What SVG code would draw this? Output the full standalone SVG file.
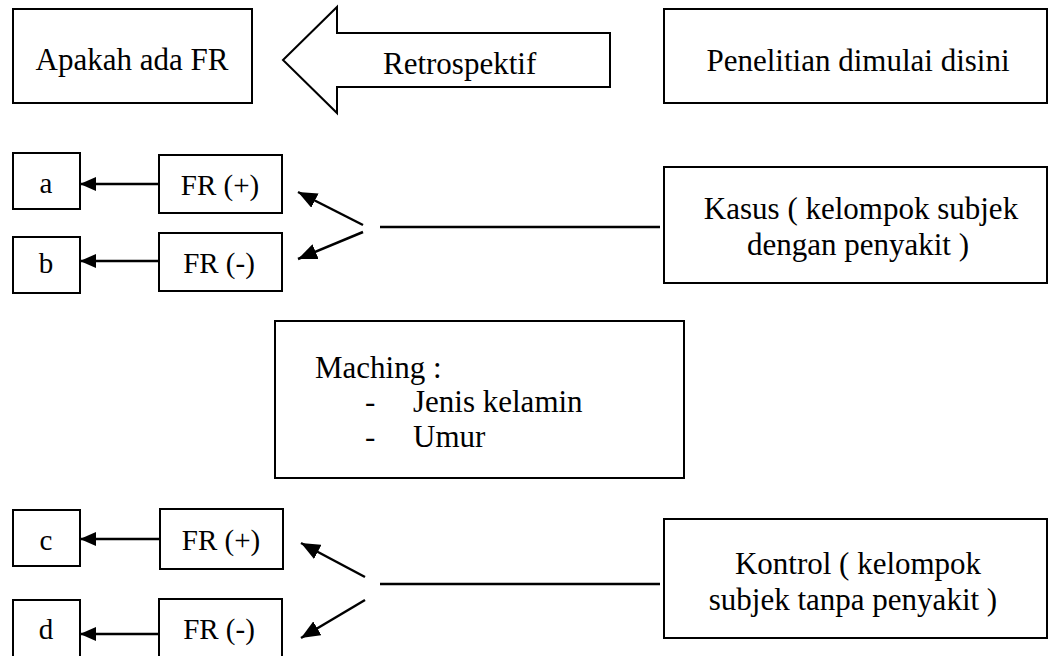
<svg xmlns="http://www.w3.org/2000/svg" width="1049" height="656" viewBox="0 0 1049 656">
<defs>
<style>
.box{fill:#fff;stroke:#000;stroke-width:2}
.t{font-family:"Liberation Serif","Times New Roman",serif;font-size:31px;fill:#000}
.s{font-family:"Liberation Serif","Times New Roman",serif;font-size:29px;fill:#000}
.c{text-anchor:middle}
.ln{stroke:#000;stroke-width:2.5;fill:none}
</style>
<marker id="ah" markerUnits="userSpaceOnUse" markerWidth="18" markerHeight="14" refX="16" refY="7" orient="auto">
<path d="M0,0 L16,7 L0,14 z" fill="#000"/>
</marker>
<marker id="ad" markerUnits="userSpaceOnUse" markerWidth="20" markerHeight="16" refX="19" refY="8" orient="auto">
<path d="M0,0 L19,8 L0,16 z" fill="#000"/>
</marker>
</defs>
<rect width="1049" height="656" fill="#fff"/>

<g id="apakah"><rect class="box" x="13" y="9" width="239" height="94"/><text class="t c" x="132" y="70">Apakah ada FR</text></g>
<g id="retrospektif"><polygon class="box" points="283,60 337,7 337,33 610,33 610,87 337,87 337,113"/><text class="t" x="383" y="74">Retrospektif</text></g>
<g id="penelitian"><rect class="box" x="664" y="9" width="383" height="94"/><text class="t c" x="858" y="71">Penelitian dimulai disini</text></g>

<g id="a"><rect class="box" x="13" y="153" width="67" height="56"/><text class="s c" x="46" y="193">a</text></g>
<g id="b"><rect class="box" x="13" y="237" width="67" height="56"/><text class="s c" x="46" y="273">b</text></g>
<g id="frp1"><rect class="box" x="159" y="155" width="123" height="58"/><text class="s c" x="220" y="195">FR (+)</text></g>
<g id="frm1"><rect class="box" x="159" y="233" width="123" height="58"/><text class="s c" x="219" y="273">FR (-)</text></g>
<g id="kasus"><rect class="box" x="664" y="167" width="383" height="116"/><text class="t c" x="861" y="219">Kasus ( kelompok subjek</text><text class="t c" x="858" y="255">dengan penyakit )</text></g>

<g id="maching"><rect class="box" x="275" y="321" width="409" height="157"/><text class="t" x="315" y="378">Maching :</text><text class="t" x="365" y="412">-</text><text class="t" x="413" y="412">Jenis kelamin</text><text class="t" x="365" y="447">-</text><text class="t" x="413" y="447">Umur</text></g>

<g id="c"><rect class="box" x="13" y="510" width="67" height="56"/><text class="s c" x="46" y="550">c</text></g>
<g id="d"><rect class="box" x="13" y="600" width="67" height="70"/><text class="s c" x="46" y="639">d</text></g>
<g id="frp2"><rect class="box" x="160" y="509" width="123" height="60"/><text class="s c" x="221" y="550">FR (+)</text></g>
<g id="frm2"><rect class="box" x="159" y="599" width="123" height="70"/><text class="s c" x="219" y="639">FR (-)</text></g>
<g id="kontrol"><rect class="box" x="664" y="519" width="383" height="119"/><text class="t c" x="858" y="574">Kontrol ( kelompok</text><text class="t c" x="853" y="610">subjek tanpa penyakit )</text></g>

<g id="connectors">
<line class="ln" x1="159" y1="184" x2="80" y2="184" marker-end="url(#ah)"/>
<line class="ln" x1="159" y1="261" x2="80" y2="261" marker-end="url(#ah)"/>
<line class="ln" x1="363" y1="225" x2="298" y2="192" marker-end="url(#ad)"/>
<line class="ln" x1="363" y1="232" x2="298" y2="259" marker-end="url(#ad)"/>
<line class="ln" x1="380" y1="227" x2="660" y2="227"/>
<line class="ln" x1="160" y1="539" x2="80" y2="539" marker-end="url(#ah)"/>
<line class="ln" x1="159" y1="634" x2="80" y2="634" marker-end="url(#ah)"/>
<line class="ln" x1="365" y1="577" x2="301" y2="543" marker-end="url(#ad)"/>
<line class="ln" x1="365" y1="600" x2="301" y2="638" marker-end="url(#ad)"/>
<line class="ln" x1="380" y1="584" x2="660" y2="584"/>
</g>
</svg>
